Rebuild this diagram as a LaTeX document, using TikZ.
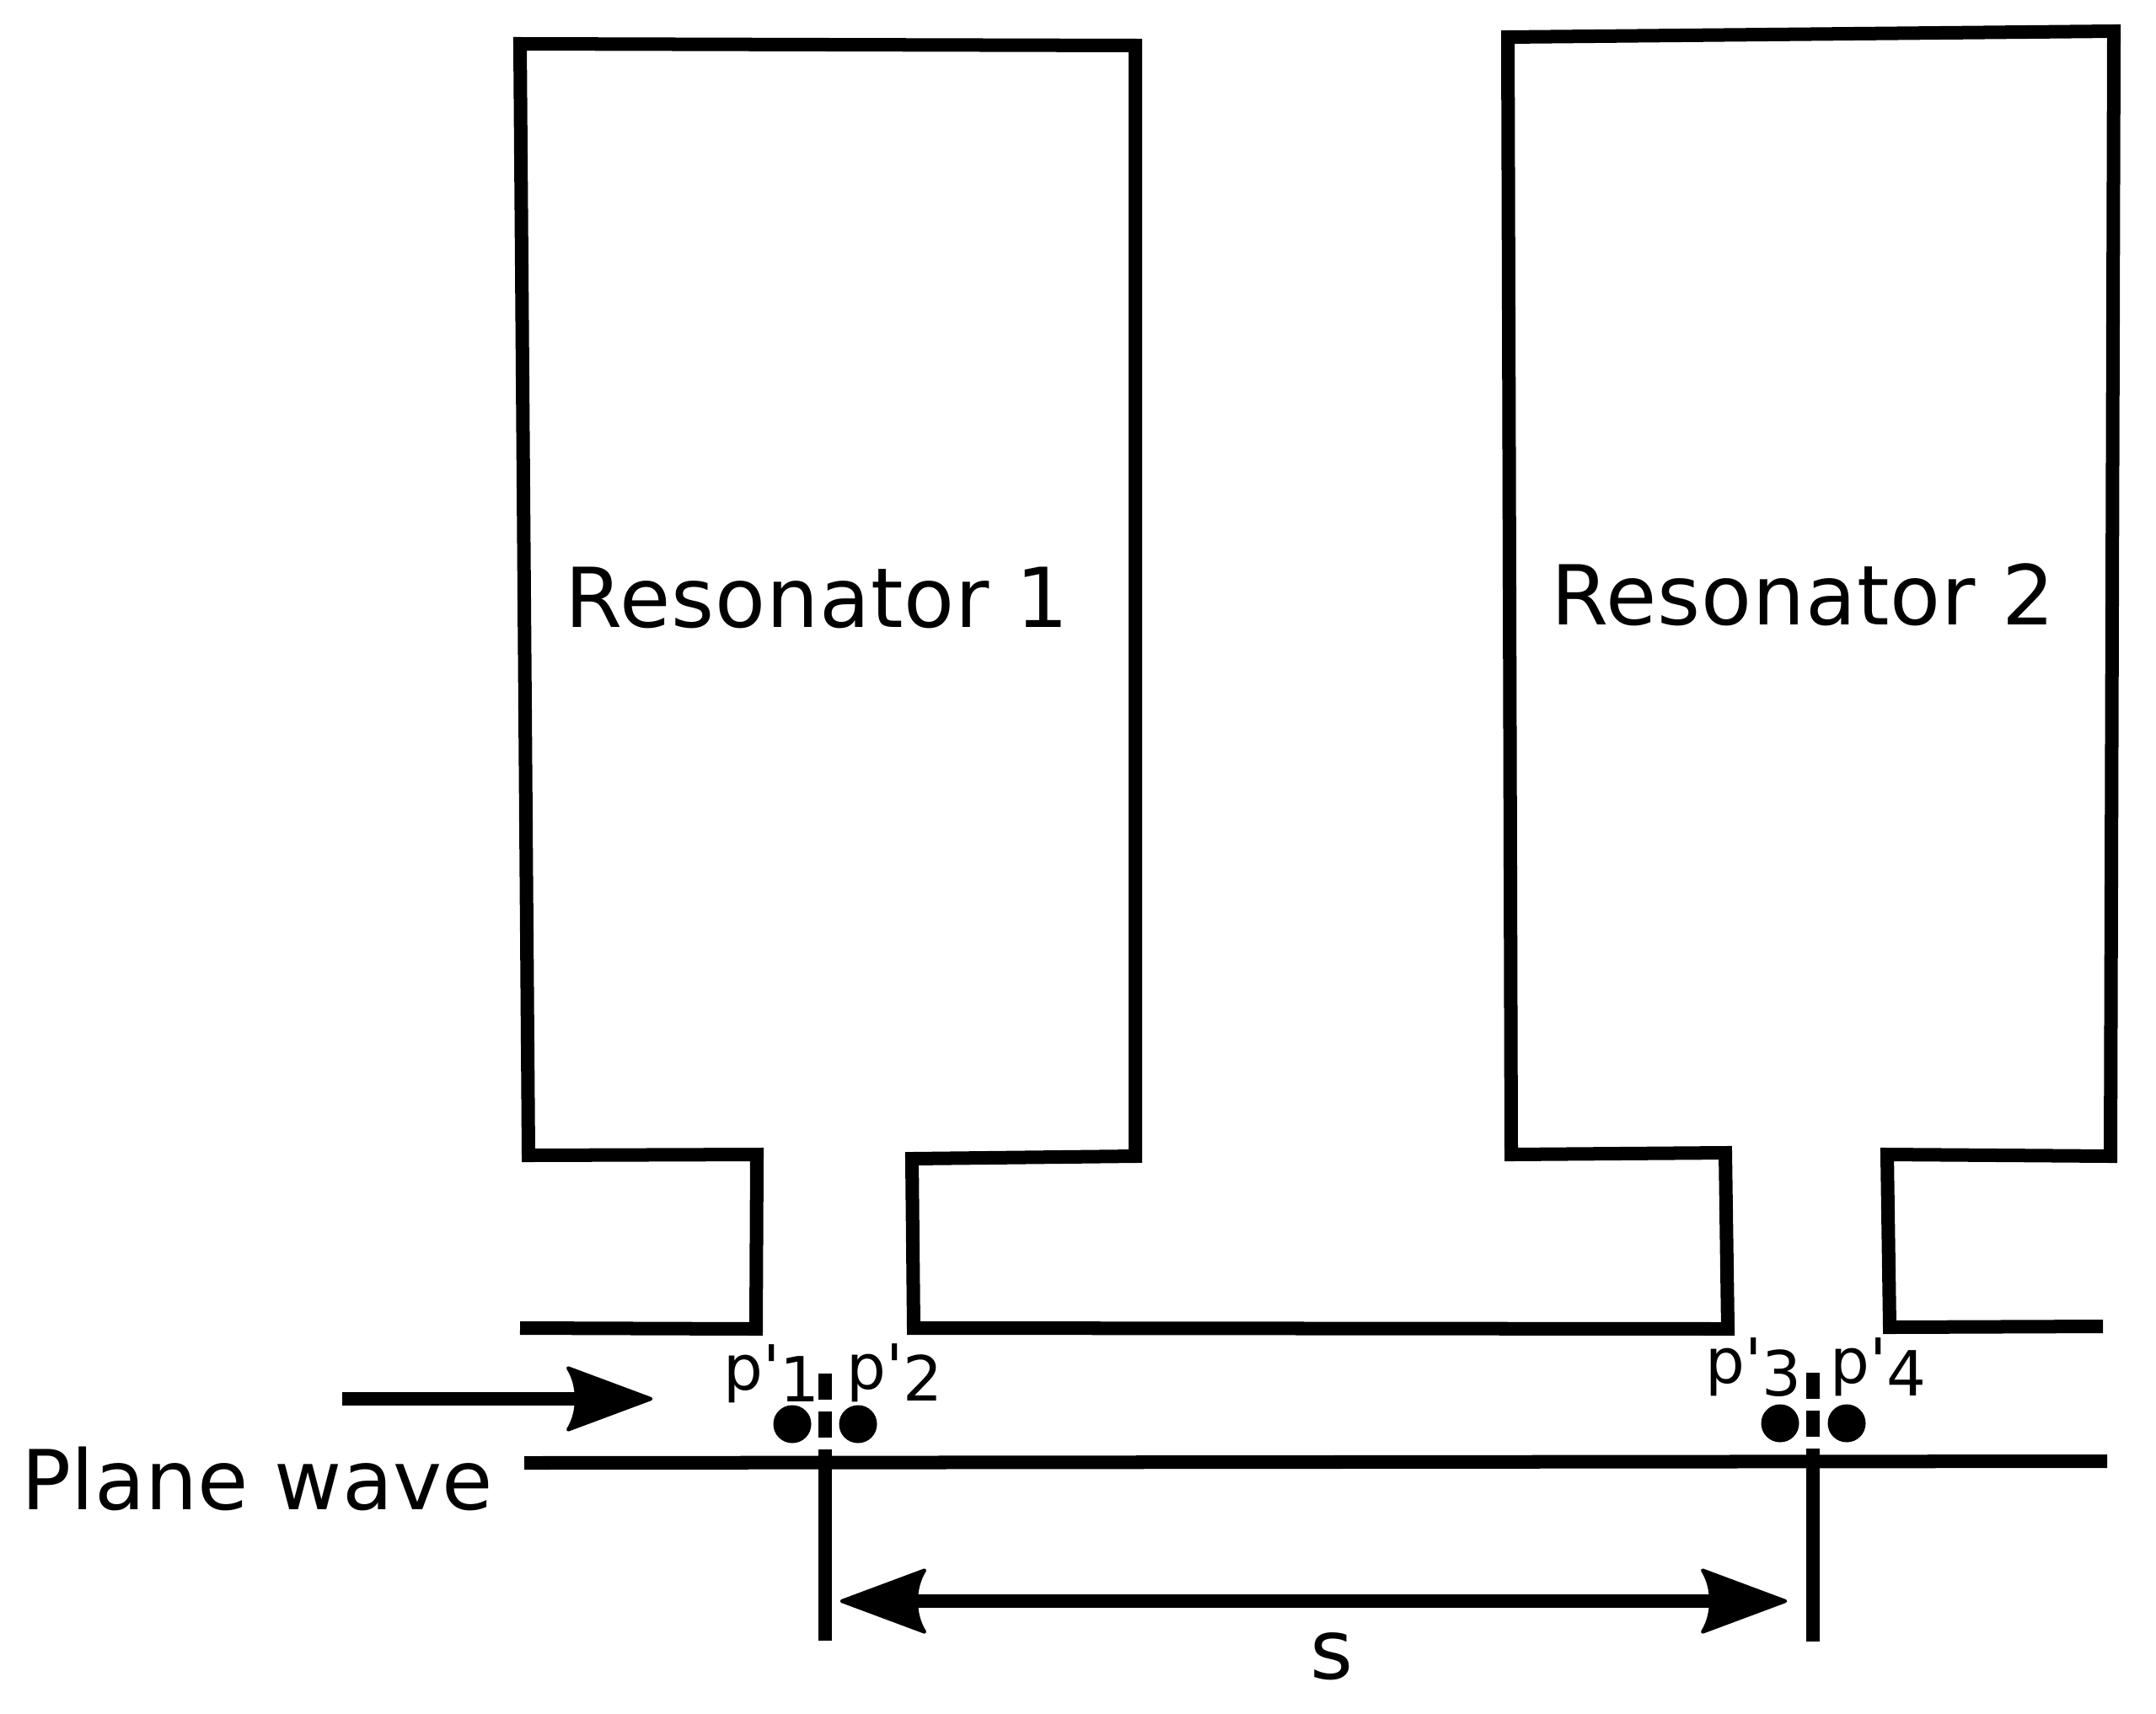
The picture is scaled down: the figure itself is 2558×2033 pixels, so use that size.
\documentclass[tikz,border=0pt]{standalone}
\usepackage{fontspec}
\usetikzlibrary{arrows.meta}
\newfontfamily\figfont{DejaVu Sans}
\newfontfamily\resfont[LetterSpace=0.8]{DejaVu Sans}

% port label: digit sits lower than the p'
\newcommand{\portlabel}[2]{p'\raisebox{-#2cm}{#1}}

% head with a hollowed back
\pgfdeclarearrow{
    name=WaveTip,
    setup code={
        \pgfarrowssettipend{0pt}
        \pgfarrowssetbackend{-29.3pt}
        \pgfarrowssetlineend{-24pt}
        \pgfarrowshullpoint{0pt}{0pt}
        \pgfarrowsupperhullpoint{-29.3pt}{11pt}
    },
    drawing code={
        \pgfsetroundjoin
        \pgfsetlinewidth{1.2pt}
        \pgfpathmoveto{\pgfpoint{-0.8pt}{0pt}}
        \pgfpathlineto{\pgfpoint{-28.7pt}{10.4pt}}
        \pgfpathcurveto{\pgfpoint{-26.6pt}{7pt}}{\pgfpoint{-25.9pt}{3.5pt}}{\pgfpoint{-25.9pt}{0pt}}
        \pgfpathcurveto{\pgfpoint{-25.9pt}{-3.5pt}}{\pgfpoint{-26.6pt}{-7pt}}{\pgfpoint{-28.7pt}{-10.4pt}}
        \pgfpathclose
        \pgfusepathqfillstroke
    }
}

\tikzset{
    wall/.style={line width=0.16cm, line join=miter},
    bigtext/.style={inner sep=0pt, anchor=base west, font=\figfont\fontsize{27.9}{32}\selectfont},
    restext/.style={inner sep=0pt, anchor=base west, font=\resfont\fontsize{27.9}{32}\selectfont},
    porttext/.style={inner sep=0pt, anchor=base west, font=\figfont\fontsize{21}{25}\selectfont},
    portdot/.style={circle, fill=black, inner sep=0pt, minimum size=0.45cm},
    refline/.style={line width=0.16cm, dash pattern=on 0.31cm off 0.135cm on 0.31cm off 0.14cm on 2.4cm}
}

\begin{document}
\begin{tikzpicture}[x=0.01cm, y=-0.01cm]
\useasboundingbox (0,0) rectangle (2558,2033);

% Resonator outlines
\draw[wall] (617,1576) -- (897,1577) -- (898,1370) -- (627,1371) -- (617,52) -- (1347,54)
    -- (1347,1372) -- (1082,1375) -- (1084,1576) -- (2050,1577) -- (2047,1368)
    -- (1793,1370) -- (1789,44) -- (2508,37) -- (2504,1372) -- (2239,1370)
    -- (2242,1575) -- (2495,1574);

% Waveguide line
\draw[wall] (622,1736) -- (2500,1734);

% Reference planes
\coordinate (plane1top) at (979,1630);
\coordinate (plane1bot) at (979,1947);
\coordinate (plane2top) at (2151,1629);
\coordinate (plane2bot) at (2151,1948);
\draw[refline] (plane1top) -- (plane1bot);
\draw[refline] (plane2top) -- (plane2bot);

% Ports
\node[portdot] (dot1) at (940,1690) {};
\node[portdot] (dot2) at (1018,1690) {};
\node[portdot] (dot3) at (2112,1689) {};
\node[portdot] (dot4) at (2191,1689) {};
\node[porttext] (port1) at (858,1649) {\portlabel{1}{0.14}};
\node[porttext] (port2) at (1004,1648) {\portlabel{2}{0.14}};
\node[porttext] (port3) at (2023,1641) {\portlabel{3}{0.155}};
\node[porttext] (port4) at (2171,1641) {\portlabel{4}{0.155}};

% Arrows
\coordinate (wavestart) at (406,1660);
\coordinate (waveend) at (775,1660);
\draw[wall, -{WaveTip}] (wavestart) -- (waveend);
\coordinate (sleft) at (996,1900);
\coordinate (sright) at (2121,1900);
\draw[wall, {WaveTip}-{WaveTip}] (sleft) -- (sright);

% Labels
\node[restext] (res1) at (670,744) {Resonator 1};
\node[restext] (res2) at (1840,741) {Resonator 2};
\node[bigtext] (wave) at (25,1791) {Plane wave};
\node[bigtext, anchor=base] (spacing) at (1580,1992) {s};
\end{tikzpicture}
\end{document}
